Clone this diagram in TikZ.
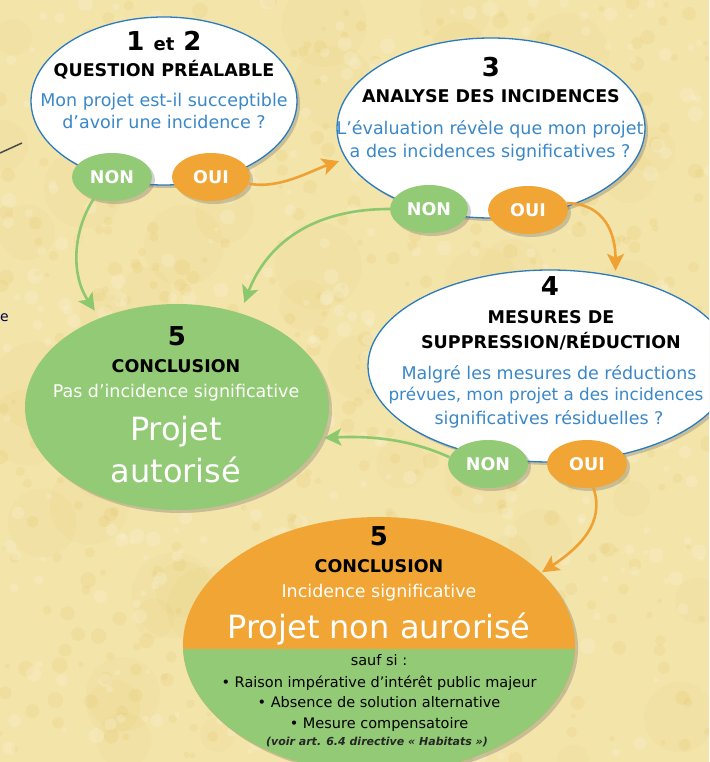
\documentclass[tikz,border=0pt]{standalone}
\usepackage{fontspec}
\setmainfont{DejaVu Sans}
\usetikzlibrary{shapes.geometric,arrows.meta,shadows,calc}
\definecolor{bgc}{HTML}{F3E4AA}
\definecolor{blot}{HTML}{E0BD55}
\definecolor{lite}{HTML}{FAF3D5}
\definecolor{bline}{HTML}{2B7BC0}
\definecolor{btext}{HTML}{3A88C8}
\definecolor{gfill}{HTML}{93CA75}
\definecolor{ofill}{HTML}{F0A535}
\definecolor{garrow}{HTML}{8CC86E}
\definecolor{oarrow}{HTML}{EFA233}
\tikzset{
 ellbase/.style={ellipse, inner sep=0pt, drop shadow={shadow xshift=3pt,shadow yshift=-3pt,opacity=.3,fill=black!60}},
 qell/.style={ellbase, fill=white, draw=bline, line width=1.3pt},
 bub/.style={ellbase, minimum width=80pt, minimum height=48pt, text=white, font=\bfseries\fontsize{17.5}{17.5}\selectfont},
 nonb/.style={bub, fill=gfill},
 ouib/.style={bub, fill=ofill},
 conn/.style={line width=2.6pt, -{Stealth[length=17pt,width=17pt,inset=4pt]}},
 garr/.style={conn, draw=garrow},
 oarr/.style={conn, draw=oarrow},
 ttl/.style={anchor=base, font=\bfseries\fontsize{17.5}{17.5}\selectfont, text=black},
 num/.style={anchor=base, font=\bfseries\fontsize{26}{26}\selectfont, text=black},
 qtxt/.style={anchor=base, font=\fontsize{17.5}{17.5}\selectfont, text=btext},
 wtxt/.style={anchor=base, font=\fontsize{17.5}{17.5}\selectfont, text=white},
 bigtxt/.style={anchor=base, font=\fontsize{32}{32}\selectfont, text=white},
 itemtxt/.style={anchor=base, font=\fontsize{14.5}{14.5}\selectfont, text=black},
}
\begin{document}
\begin{tikzpicture}[x=1pt,y=-1pt]
\clip (0,0) rectangle (709,762);
% background
\fill[bgc] (0,0) rectangle (709,762);
\pgfmathsetseed{7}
\foreach \i in {1,...,60}{
  \pgfmathsetmacro\bx{rnd*709}
  \pgfmathsetmacro\by{rnd*762}
  \pgfmathsetmacro\br{15+rnd*30}
  \fill[blot,opacity=.07] (\bx,\by) circle[radius=\br pt];
}
\foreach \i in {1,...,500}{
  \pgfmathsetmacro\bx{rnd*709}
  \pgfmathsetmacro\by{rnd*762}
  \pgfmathsetmacro\br{2+rnd*6}
  \fill[blot,opacity=.14] (\bx,\by) circle[radius=\br pt];
}
\foreach \i in {1,...,400}{
  \pgfmathsetmacro\bx{rnd*709}
  \pgfmathsetmacro\by{rnd*762}
  \pgfmathsetmacro\br{2+rnd*6}
  \fill[lite,opacity=.3] (\bx,\by) circle[radius=\br pt];
}
\draw[line width=1.5pt, black!70] (0,153) -- (22,143);
\node[anchor=base west, inner sep=0pt, text=black!70!blue, font=\fontsize{14}{14}\selectfont] (edgee) at (0,321) {e};

% main ellipses
\node[qell, minimum width=266pt, minimum height=168pt] (q12) at (164,101) {};
\node[qell, minimum width=308pt, minimum height=180pt] (e3) at (491,128) {};
\node[qell, minimum width=364pt, minimum height=192pt] (e4) at (550,366) {};
\node[ellbase, fill=gfill, minimum width=304pt, minimum height=206pt] (c5) at (177,407) {};
\node[ellbase, fill=ofill, minimum width=392pt, minimum height=256pt,
  path picture={\fill[gfill] ($(path picture bounding box.west)+(0,4)$) rectangle (path picture bounding box.south east);}] (c5b) at (379,645) {};

% bubbles
\node[nonb] (non1) at (112,177) {NON};
\node[ouib, minimum width=78pt] (oui1) at (211,177) {OUI};
\node[nonb, minimum width=78pt] (non2) at (429,209) {NON};
\node[ouib] (oui2) at (528,210) {OUI};
\node[nonb] (non4) at (488,464) {NON};
\node[ouib] (oui4) at (587,464) {OUI};

% connectors
\draw[oarr, shorten >=7pt] (oui1.-10) .. controls +(30,6) and +(-35,12) .. (e3.192);
\draw[oarr, shorten >=5pt] (oui2.10) .. controls +(38,0) and +(0,-42) .. (e4.54);
\draw[garr, shorten >=11pt] (non2.west) .. controls +(-90,0) and +(22,-58) .. (c5.56);
\draw[garr, shorten >=9pt] (non1.230) .. controls +(-20,30) and +(-30,-45) .. (c5.131);
\draw[garr, shorten >=2pt] (non4.170) .. controls +(-40,-18) and +(50,-2) .. (c5.348);
\draw[oarr, shorten >=1pt] (oui4.-75) .. controls +(12,35) and +(38,-25) .. (c5b.24);

% texts ellipse 1-2
\node[num] (t12) at (164,51) {1 {\fontsize{18}{18}\selectfont et} 2};
\node[ttl] (t12a) at (164,77) {QUESTION PRÉALABLE};
\node[qtxt] (t12b) at (164,107) {Mon projet est-il succeptible};
\node[qtxt] (t12c) at (164,129) {d’avoir une incidence ?};
% ellipse 3
\node[num] (t3) at (491,77) {3};
\node[ttl] (t3a) at (491,103) {ANALYSE DES INCIDENCES};
\node[qtxt] (t3b) at (490,135) {L’évaluation révèle que mon projet};
\node[qtxt] (t3c) at (490,158) {a des incidences significatives ?};
% ellipse 4
\node[num] (t4) at (550,295) {4};
\node[ttl] (t4a) at (551,323) {MESURES DE};
\node[ttl] (t4b) at (551,348) {SUPPRESSION/RÉDUCTION};
\node[qtxt] (t4c) at (549,379) {Malgré les mesures de réductions};
\node[qtxt, font=\fontsize{16.8}{16.8}\selectfont] (t4d) at (546,400) {prévues, mon projet a des incidences};
\node[qtxt] (t4e) at (549,424) {significatives résiduelles ?};
% conclusion green
\node[num] (t5) at (177,345) {5};
\node[ttl] (t5a) at (176,372) {CONCLUSION};
\node[wtxt] (t5b) at (176,397) {Pas d’incidence significative};
\node[bigtxt] (t5c) at (176,440) {Projet};
\node[bigtxt] (t5d) at (176,482) {autorisé};
% conclusion orange
\node[num] (t6) at (379,545) {5};
\node[ttl] (t6a) at (379,572) {CONCLUSION};
\node[wtxt] (t6b) at (379,597) {Incidence significative};
\node[bigtxt] (t6c) at (379,638) {Projet non aurorisé};
\node[itemtxt] (t6d) at (379,665) {sauf si :};
\node[itemtxt] (t6e) at (379,687) {• Raison impérative d’intérêt public majeur};
\node[itemtxt] (t6f) at (379,707) {• Absence de solution alternative};
\node[itemtxt] (t6g) at (379,728) {• Mesure compensatoire};
\node[anchor=base, font=\bfseries\itshape\fontsize{11}{11}\selectfont, text=black!85] (t6h) at (377,745) {(voir art. 6.4 directive « Habitats »)};
\end{tikzpicture}
\end{document}
